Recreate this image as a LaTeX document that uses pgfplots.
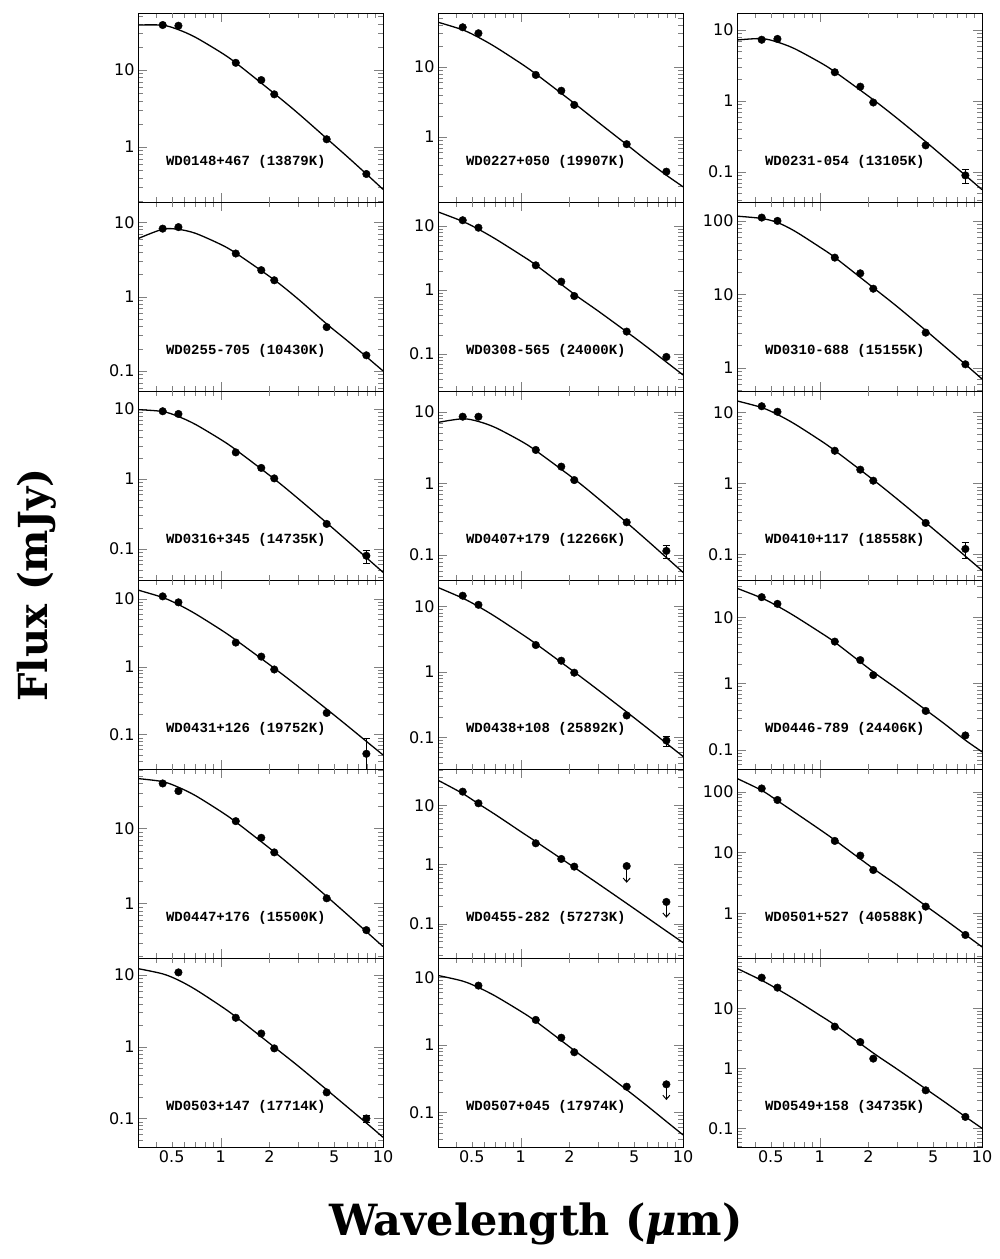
\documentclass[border=0pt]{standalone}
\usepackage{fontspec}
\setmainfont{DejaVu Sans}
\newfontfamily\annfont{Liberation Mono}
\newfontfamily\labfont{DejaVu Serif}
\usepackage{pgfplots}
\pgfplotsset{compat=1.18}
\usetikzlibrary{arrows.meta}
\pgfplotsset{
  every axis/.append style={
    xmode=log, ymode=log, scale only axis, width=245bp, height=189bp,
    anchor=north west, xmin=0.31, xmax=10,
    log ticks with fixed point,
    /pgf/number format/assume math mode=true,
    tick align=inside,
    xtick={1,10}, xticklabels={},
    minor xtick={0.4,0.6,0.7,0.8,0.9,3,4,6,7,8,9},
    extra x ticks={0.5,2,5}, extra x tick labels={},
    major tick length=9bp, minor tick length=5bp,
    axis line style={line width=1bp},
    ticklabel style={font=\fontsize{16bp}{18bp}\selectfont},
  },
  every extra x tick/.append style={major tick length=5bp},
  wdbottom/.style={xticklabels={1,10}, extra x tick labels={0.5,2,5}},
  wdpts/.style={only marks, mark=*, mark size=3.8bp, black},
  wdmdl/.style={smooth, no markers, black, line width=1.3bp},
  wdebar/.style={only marks, mark=*, mark size=3.8bp, black,
     error bars/y dir=both, error bars/y explicit,
     error bars/error bar style={line width=1bp}},
  wdulim/.style={black, line width=1bp, -{Straight Barb[length=4bp,width=7bp]}},
}
\tikzset{wdann/.style={anchor=west, font=\annfont\bfseries\fontsize{14bp}{16bp}\selectfont}}
\begin{document}
\begin{tikzpicture}
\useasboundingbox (0,0) rectangle (1000bp,-1259bp);
% ---------------- Row 1
\begin{axis}[at={(138bp,-13bp)}, ymin=0.193, ymax=55]
\addplot[wdmdl] coordinates {(0.31,38.4)(0.44,38.2)(0.55,33.4)(0.7,26.6)(1.0,17.0)(1.24,12.4)(2.14,4.95)(3.0,2.74)(4.5,1.29)(6.0,0.755)(7.9,0.446)(10,0.282)};
\addplot[wdpts] coordinates {(0.44,38.4)(0.55,37.6)(1.24,12.4)(1.78,7.4)(2.14,4.83)(4.5,1.26)(7.9,0.446)};
\node[wdann] at (rel axis cs:0.1,0.21) {WD0148+467 (13879K)};
\end{axis}
\begin{axis}[at={(438bp,-13bp)}, ymin=0.118, ymax=59]
\addplot[wdmdl] coordinates {(0.31,43.6)(0.44,33.9)(0.55,26.5)(0.7,19.3)(1.0,11.3)(1.24,7.96)(2.14,3.03)(3.0,1.63)(4.5,0.78)(6.0,0.46)(7.9,0.285)(10,0.195)};
\addplot[wdpts] coordinates {(0.44,36.9)(0.55,30.3)(1.24,7.7)(1.78,4.58)(2.14,2.87)(4.5,0.79)(7.9,0.32)};
\node[wdann] at (rel axis cs:0.1,0.21) {WD0227+050 (19907K)};
\end{axis}
\begin{axis}[at={(737bp,-13bp)}, ymin=0.0375, ymax=17.4]
\addplot[wdmdl] coordinates {(0.31,7.24)(0.44,7.58)(0.55,6.76)(0.7,5.47)(1.0,3.52)(1.24,2.58)(2.14,1.04)(3.0,0.569)(4.5,0.266)(6.0,0.152)(7.9,0.089)(10,0.056)};
\addplot[wdpts] coordinates {(0.44,7.3)(0.55,7.5)(1.24,2.54)(1.78,1.59)(2.14,0.95)(4.5,0.236)};
\addplot[wdebar] coordinates {(7.9,0.089) +- (0,0.02)};
\node[wdann] at (rel axis cs:0.1,0.21) {WD0231-054 (13105K)};
\end{axis}
% ---------------- Row 2
\begin{axis}[at={(138bp,-202bp)}, ymin=0.054, ymax=18.7]
\addplot[wdmdl] coordinates {(0.31,6.03)(0.44,8.05)(0.55,8.02)(0.7,7.1)(1.0,5.04)(1.24,3.85)(2.14,1.68)(3.0,0.93)(4.5,0.43)(6.0,0.258)(7.9,0.156)(10,0.1005)};
\addplot[wdpts] coordinates {(0.44,8.2)(0.55,8.6)(1.24,3.8)(1.78,2.27)(2.14,1.66)(4.5,0.39)(7.9,0.163)};
\node[wdann] at (rel axis cs:0.1,0.21) {WD0255-705 (10430K)};
\end{axis}
\begin{axis}[at={(438bp,-202bp)}, ymin=0.0264, ymax=23.7]
\addplot[wdmdl] coordinates {(0.31,16.6)(0.44,11.8)(0.55,8.9)(0.7,6.28)(1.0,3.55)(1.24,2.46)(2.14,0.86)(3.0,0.47)(4.5,0.222)(6.0,0.1285)(7.9,0.0748)(10,0.0471)};
\addplot[wdpts] coordinates {(0.44,12.3)(0.55,9.4)(1.24,2.43)(1.78,1.35)(2.14,0.805)(4.5,0.224)(7.9,0.09)};
\node[wdann] at (rel axis cs:0.1,0.21) {WD0308-565 (24000K)};
\end{axis}
\begin{axis}[at={(737bp,-202bp)}, ymin=0.48, ymax=181]
\addplot[wdmdl] coordinates {(0.31,116)(0.44,108)(0.55,95)(0.7,73)(1.0,44.1)(1.24,31.8)(2.14,12.3)(3.0,6.8)(4.5,3.22)(6.0,1.87)(7.9,1.107)(10,0.70)};
\addplot[wdpts] coordinates {(0.44,111)(0.55,100)(1.24,31.6)(1.78,19.3)(2.14,11.9)(4.5,3.0)(7.9,1.11)};
\node[wdann] at (rel axis cs:0.1,0.21) {WD0310-688 (15155K)};
\end{axis}
% ---------------- Row 3
\begin{axis}[at={(138bp,-391bp)}, ymin=0.036, ymax=18.1]
\addplot[wdmdl] coordinates {(0.31,9.8)(0.44,9.22)(0.55,7.81)(0.7,6.03)(1.0,3.68)(1.24,2.62)(2.14,1.0)(3.0,0.526)(4.5,0.236)(6.0,0.132)(7.9,0.0752)(10,0.0464)};
\addplot[wdpts] coordinates {(0.44,9.3)(0.55,8.5)(1.24,2.4)(1.78,1.44)(2.14,1.02)(4.5,0.228)};
\addplot[wdebar] coordinates {(7.9,0.08) +- (0,0.017)};
\node[wdann] at (rel axis cs:0.1,0.21) {WD0316+345 (14735K)};
\end{axis}
\begin{axis}[at={(438bp,-391bp)}, ymin=0.0448, ymax=19.4]
\addplot[wdmdl] coordinates {(0.31,7.08)(0.44,7.95)(0.55,7.29)(0.7,5.99)(1.0,3.91)(1.24,2.86)(2.14,1.147)(3.0,0.617)(4.5,0.2834)(6.0,0.1606)(7.9,0.0923)(10,0.0573)};
\addplot[wdpts] coordinates {(0.44,8.5)(0.55,8.5)(1.24,2.92)(1.78,1.71)(2.14,1.11)(4.5,0.286)};
\addplot[wdebar] coordinates {(7.9,0.114) +- (0,0.025)};
\node[wdann] at (rel axis cs:0.1,0.21) {WD0407+179 (12266K)};
\end{axis}
\begin{axis}[at={(737bp,-391bp)}, ymin=0.0435, ymax=20]
\addplot[wdmdl] coordinates {(0.31,14.5)(0.44,11.7)(0.55,9.33)(0.7,6.9)(1.0,4.09)(1.24,2.9)(2.14,1.12)(3.0,0.603)(4.5,0.28)(6.0,0.161)(7.9,0.0942)(10,0.0594)};
\addplot[wdpts] coordinates {(0.44,12.2)(0.55,10.2)(1.24,2.88)(1.78,1.56)(2.14,1.09)(4.5,0.277)};
\addplot[wdebar] coordinates {(7.9,0.119) +- (0,0.03)};
\node[wdann] at (rel axis cs:0.1,0.21) {WD0410+117 (18558K)};
\end{axis}
% ---------------- Row 4
\begin{axis}[at={(138bp,-580bp)}, ymin=0.031, ymax=19]
\addplot[wdmdl] coordinates {(0.31,13.5)(0.44,10.5)(0.55,8.26)(0.7,6.03)(1.0,3.53)(1.24,2.48)(2.14,0.951)(3.0,0.511)(4.5,0.237)(6.0,0.136)(7.9,0.0793)(10,0.05)};
\addplot[wdpts] coordinates {(0.44,10.9)(0.55,8.9)(1.24,2.27)(1.78,1.41)(2.14,0.91)(4.5,0.208)};
\addplot[wdebar] coordinates {(7.9,0.052) +- (0,0.035)};
\node[wdann] at (rel axis cs:0.1,0.21) {WD0431+126 (19752K)};
\end{axis}
\begin{axis}[at={(438bp,-580bp)}, ymin=0.0326, ymax=25.4]
\addplot[wdmdl] coordinates {(0.31,19.5)(0.44,13.4)(0.55,9.98)(0.7,6.97)(1.0,3.89)(1.24,2.69)(2.14,0.995)(3.0,0.528)(4.5,0.243)(6.0,0.139)(7.9,0.0807)(10,0.0508)};
\addplot[wdpts] coordinates {(0.44,14.6)(0.55,10.6)(1.24,2.57)(1.78,1.48)(2.14,0.97)(4.5,0.215)};
\addplot[wdebar] coordinates {(7.9,0.089) +- (0,0.016)};
\node[wdann] at (rel axis cs:0.1,0.21) {WD0438+108 (25892K)};
\end{axis}
\begin{axis}[at={(737bp,-580bp)}, ymin=0.051, ymax=36.7]
\addplot[wdmdl] coordinates {(0.31,27.5)(0.44,19.6)(0.55,14.8)(0.7,10.5)(1.0,6.01)(1.24,4.21)(2.14,1.5)(3.0,0.83)(4.5,0.4)(6.0,0.236)(7.9,0.139)(10,0.093)};
\addplot[wdpts] coordinates {(0.44,20.2)(0.55,16.0)(1.24,4.3)(1.78,2.26)(2.14,1.34)(4.5,0.385)(7.9,0.164)};
\node[wdann] at (rel axis cs:0.1,0.21) {WD0446-789 (24406K)};
\end{axis}
% ---------------- Row 5
\begin{axis}[at={(138bp,-769bp)}, ymin=0.187, ymax=62]
\addplot[wdmdl] coordinates {(0.31,46.2)(0.44,42.1)(0.55,35.4)(0.7,27.4)(1.0,16.9)(1.24,12.2)(2.14,4.86)(3.0,2.65)(4.5,1.24)(6.0,0.716)(7.9,0.42)(10,0.266)};
\addplot[wdpts] coordinates {(0.44,39.8)(0.55,31.5)(1.24,12.5)(1.78,7.5)(2.14,4.79)(4.5,1.17)(7.9,0.44)};
\node[wdann] at (rel axis cs:0.1,0.21) {WD0447+176 (15500K)};
\end{axis}
\begin{axis}[at={(438bp,-769bp)}, ymin=0.0263, ymax=41]
\addplot[wdmdl] coordinates {(0.31,26.5)(0.44,15.8)(0.55,10.6)(0.7,6.95)(1.0,3.61)(1.24,2.44)(2.14,0.891)(3.0,0.474)(4.5,0.22)(6.0,0.127)(7.9,0.075)(10,0.0479)};
\addplot[wdpts] coordinates {(0.44,17)(0.55,10.8)(1.24,2.28)(1.78,1.24)(2.14,0.92)(4.5,0.94)(7.9,0.233)};
\addplot[wdulim] coordinates {(4.5,0.94)(4.5,0.49)};
\addplot[wdulim] coordinates {(7.9,0.233)(7.9,0.126)};
\node[wdann] at (rel axis cs:0.1,0.21) {WD0455-282 (57273K)};
\end{axis}
\begin{axis}[at={(737bp,-769bp)}, ymin=0.184, ymax=236]
\addplot[wdmdl] coordinates {(0.31,165)(0.44,105)(0.55,71)(0.7,46)(1.0,24)(1.24,16.0)(2.14,5.45)(3.0,2.92)(4.5,1.33)(6.0,0.765)(7.9,0.446)(10,0.28)};
\addplot[wdpts] coordinates {(0.44,113)(0.55,73)(1.24,15.5)(1.78,8.9)(2.14,5.15)(4.5,1.29)(7.9,0.44)};
\node[wdann] at (rel axis cs:0.1,0.21) {WD0501+527 (40588K)};
\end{axis}
% ---------------- Row 6
\begin{axis}[wdbottom, at={(138bp,-958bp)}, ymin=0.04, ymax=17.3]
\addplot[wdmdl] coordinates {(0.31,12.3)(0.44,10.4)(0.55,8.5)(0.7,6.3)(1.0,3.72)(1.24,2.62)(2.14,0.99)(3.0,0.54)(4.5,0.252)(6.0,0.146)(7.9,0.0865)(10,0.0547)};
\addplot[wdpts] coordinates {(0.55,10.9)(1.24,2.54)(1.78,1.53)(2.14,0.95)(4.5,0.231)};
\addplot[wdebar] coordinates {(7.9,0.1) +- (0,0.012)};
\node[wdann] at (rel axis cs:0.1,0.21) {WD0503+147 (17714K)};
\end{axis}
\begin{axis}[wdbottom, at={(438bp,-958bp)}, ymin=0.0308, ymax=19.4]
\addplot[wdmdl] coordinates {(0.31,10.7)(0.44,8.83)(0.55,7.1)(0.7,5.29)(1.0,3.16)(1.24,2.24)(2.14,0.83)(3.0,0.455)(4.5,0.217)(6.0,0.126)(7.9,0.0736)(10,0.0466)};
\addplot[wdpts] coordinates {(0.55,7.57)(1.24,2.35)(1.78,1.28)(2.14,0.78)(4.5,0.241)(7.9,0.261)};
\addplot[wdulim] coordinates {(7.9,0.261)(7.9,0.153)};
\node[wdann] at (rel axis cs:0.1,0.21) {WD0507+045 (17974K)};
\end{axis}
\begin{axis}[wdbottom, at={(737bp,-958bp)}, ymin=0.0488, ymax=68.9]
\addplot[wdmdl] coordinates {(0.31,46.2)(0.44,29.2)(0.55,20.9)(0.7,14.2)(1.0,7.7)(1.24,5.27)(2.14,1.8)(3.0,0.97)(4.5,0.455)(6.0,0.265)(7.9,0.156)(10,0.1)};
\addplot[wdpts] coordinates {(0.44,32.4)(0.55,22.1)(1.24,4.95)(1.78,2.74)(2.14,1.45)(4.5,0.43)(7.9,0.155)};
\node[wdann] at (rel axis cs:0.1,0.21) {WD0549+158 (34735K)};
\end{axis}
% ---------------- axis titles
\node[rotate=90, font=\labfont\bfseries\fontsize{40bp}{44bp}\selectfont] at (37bp,-585bp) {Flux (mJy)};
\node[font=\labfont\bfseries\fontsize{43bp}{46bp}\selectfont] at (536bp,-1224bp) {Wavelength ({\itshape μ}m)};
\end{tikzpicture}
\end{document}
